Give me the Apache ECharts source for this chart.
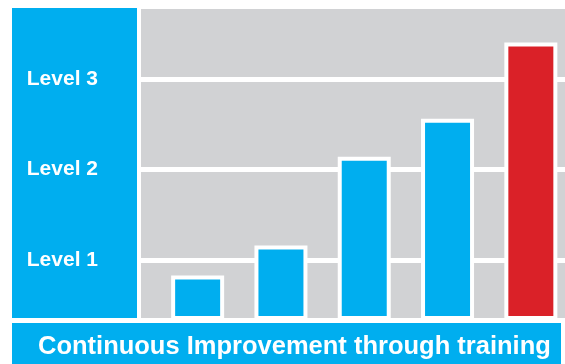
<!DOCTYPE html>
<html>
<head>
<meta charset="utf-8">
<script src="https://cdn.jsdelivr.net/npm/echarts@6/dist/echarts.min.js"></script>
<style>
html,body{margin:0;padding:0;background:#fff;}
#chart{width:565px;height:364px;}
</style>
</head>
<body>
<div id="chart"></div>
<script>
// Data
var categories = ['Stage 1', 'Stage 2', 'Stage 3', 'Stage 4', 'Stage 5'];
var values = [0.83, 1.16, 2.14, 2.56, 3.40];
var highlightIndex = 4;
var levelLabels = ['Level 1', 'Level 2', 'Level 3'];
var levelValues = [1, 2, 3];
var footerText = 'Continuous Improvement through training';

var BLUE = '#00AEEF', RED = '#DA2128', GREY = '#D1D2D4';

var chart = echarts.init(document.getElementById('chart'), null, {renderer: 'canvas'});

var barData = categories.map(function (c, i) {
  return {
    name: c,
    value: [i + 1, values[i]],
    itemStyle: {color: i === highlightIndex ? RED : BLUE}
  };
});

var markData = levelValues.map(function (v, i) {
  return {yAxis: v, name: levelLabels[i]};
});

chart.setOption({
  animation: false,
  grid: {
    left: 141, right: 0, top: 9, bottom: 46,
    show: true, backgroundColor: GREY, borderWidth: 0
  },
  xAxis: {
    type: 'value', min: 0.32, max: 5.41, show: false
  },
  yAxis: {
    type: 'value', min: 0.36, max: 3.77, show: false,
    splitLine: {show: false}
  },
  graphic: [
    {type: 'rect', shape: {x: 12, y: 8, width: 125, height: 310}, style: {fill: BLUE}, z: 0, silent: true},
    {type: 'rect', shape: {x: 12, y: 323, width: 549, height: 41}, style: {fill: BLUE}, z: 0, silent: true},
    {type: 'text', left: 38, top: 334, z: 10, silent: true,
      style: {text: footerText, fill: '#fff', fontSize: 25.5, fontWeight: 'bold', fontFamily: 'Liberation Sans, Arial, sans-serif'}}
  ],
  series: [
    {
      type: 'line',
      data: [],
      silent: true,
      z: 1,
      markLine: {
        silent: true,
        z: 1,
        symbol: ['none', 'none'],
        lineStyle: {color: '#fff', width: 5, type: 'solid'},
        label: {
          show: true, position: 'start', distance: 43, formatter: '{b}',
          color: '#fff', fontSize: 21, fontWeight: 'bold',
          fontFamily: 'Liberation Sans, Arial, sans-serif'
        },
        data: markData
      }
    },
    {
      type: 'bar',
      z: 3,
      barWidth: 53,
      data: barData,
      itemStyle: {borderColor: '#fff', borderWidth: 4},
      silent: true
    }
  ]
});
</script>
</body>
</html>
